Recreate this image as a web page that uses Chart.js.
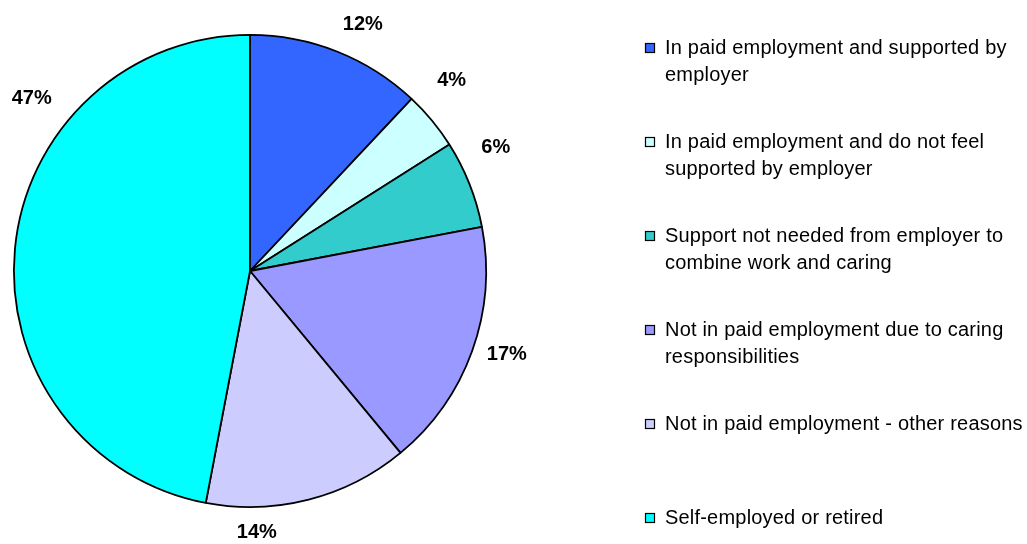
<!DOCTYPE html>
<html>
<head>
<meta charset="utf-8">
<script src="https://cdn.jsdelivr.net/npm/chart.js@4/dist/chart.umd.min.js"></script>
<style>
  html, body { margin: 0; padding: 0; background: #fff; }
  #wrap { width: 1027px; height: 544px; }
</style>
</head>
<body>
<div id="wrap"><canvas id="chart" width="1027" height="544"></canvas></div>
<script>
// carers by employment situation, share of respondents (%)
const categories = [
    ['In paid employment and supported by', 'employer'],
    ['In paid employment and do not feel', 'supported by employer'],
    ['Support not needed from employer to', 'combine work and caring'],
    ['Not in paid employment due to caring', 'responsibilities'],
    ['Not in paid employment - other reasons'],
    ['Self-employed or retired']
];
const shares = [12, 4, 6, 17, 14, 47];
const sliceColors = ['#3366FF', '#CCFFFF', '#33CCCC', '#9999FF', '#CCCCFF', '#00FFFF'];

// percentage labels sit outside the pie; nudge in degrees, dist = px past the rim
const outsideLabels = {
    id: 'outsideLabels',
    afterDatasetsDraw(chart, args, opts) {
        const ctx = chart.ctx;
        const arcs = chart.getDatasetMeta(0).data;
        ctx.save();
        ctx.font = 'bold 20px "Liberation Sans", Arial, sans-serif';
        ctx.fillStyle = '#000';
        ctx.textAlign = 'center';
        ctx.textBaseline = 'middle';
        arcs.forEach((arc, i) => {
            const p = arc.getProps(['x', 'y', 'startAngle', 'endAngle', 'outerRadius'], true);
            const a = (p.startAngle + p.endAngle) / 2 + opts.nudge[i] * Math.PI / 180;
            const r = p.outerRadius + opts.dist[i];
            ctx.fillText(shares[i] + '%', p.x + Math.cos(a) * r, p.y + Math.sin(a) * r);
        });
        ctx.restore();
    }
};

// legend on the right with wrapped entries
const sideLegend = {
    id: 'sideLegend',
    afterDraw(chart, args, opts) {
        const ctx = chart.ctx;
        ctx.save();
        ctx.font = '20px "Liberation Sans", Arial, sans-serif';
        ctx.letterSpacing = '0.2px';
        ctx.textBaseline = 'middle';
        ctx.textAlign = 'left';
        categories.forEach((lines, i) => {
            const y = Math.round(opts.top + i * opts.step);
            ctx.fillStyle = sliceColors[i];
            ctx.fillRect(opts.x, y - 5, 10, 10);
            ctx.strokeStyle = '#000';
            ctx.lineWidth = 1.2;
            ctx.strokeRect(opts.x + 0.5, y - 4.5, 9, 9);
            ctx.fillStyle = '#000';
            lines.forEach((line, j) => {
                ctx.fillText(line, opts.x + 20, y + j * opts.lineHeight);
            });
        });
        ctx.restore();
    }
};

new Chart(document.getElementById('chart'), {
    type: 'pie',
    data: {
        labels: categories,
        datasets: [{
            data: shares,
            backgroundColor: sliceColors,
            borderColor: '#000',
            borderWidth: 1.8
        }]
    },
    options: {
        responsive: false,
        animation: false,
        layout: {
            padding: { left: 13, top: 34, right: 540, bottom: 36 }
        },
        plugins: {
            legend: { display: false },
            tooltip: { enabled: false },
            outsideLabels: {
                nudge: [3.0, -3.7, -5.1, -1.8, 12.9, 32.9],
                dist: [35, 41, 39, 34, 25, 42]
            },
            sideLegend: { x: 645, top: 48, step: 94, lineHeight: 27 }
        }
    },
    plugins: [outsideLabels, sideLegend]
});
</script>
</body>
</html>
